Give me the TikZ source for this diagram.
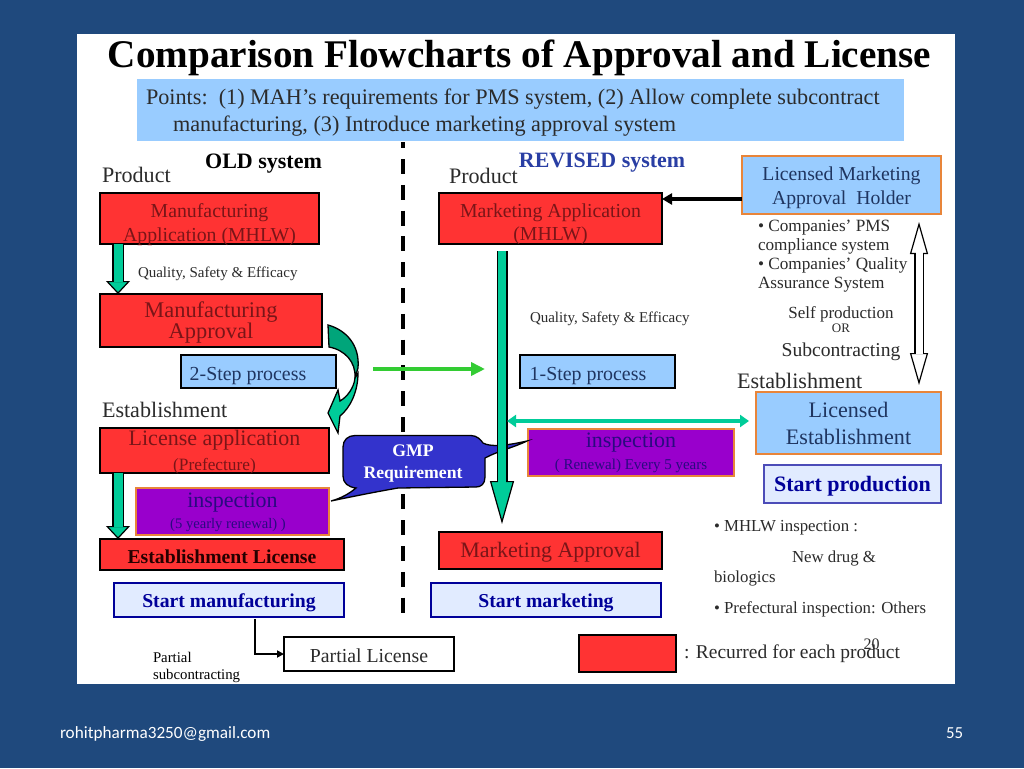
\documentclass[tikz,border=0pt]{standalone}
\usepackage{fontspec}
\setmainfont{Liberation Serif}
\newfontfamily\footfont{Carlito}
\usepackage{tikz}
\usetikzlibrary{positioning,arrows.meta,calc}
\definecolor{slide}{HTML}{1F497D}
\definecolor{boxred}{HTML}{FF3333}
\definecolor{boxblue}{HTML}{99CCFF}
\definecolor{boxpurple}{HTML}{9900CC}
\definecolor{boxpale}{HTML}{E1EBFF}
\definecolor{navy}{HTML}{000099}
\definecolor{tealarrow}{HTML}{00CC99}
\definecolor{tealdark}{HTML}{00A57A}
\definecolor{limearrow}{HTML}{33CC33}
\definecolor{calloutblue}{HTML}{3333CC}
\definecolor{edgeorange}{HTML}{E8853A}
\definecolor{inkred}{HTML}{7A1518}
\definecolor{inkblue}{HTML}{1F3560}
\definecolor{inkpurple}{HTML}{2A0A80}
\definecolor{inkgray}{HTML}{2B2B2B}

% size and line pitch
\newcommand{\fs}[2]{\fontsize{#1}{#2}\selectfont}
% room above the first and below the last baseline inside a box
\newcommand{\ltop}[1]{\rule{0pt}{#1pt}}
\newcommand{\lbot}[2]{\smash{#2}\rule[-#1pt]{0pt}{#1pt}}

\begin{document}
\begin{tikzpicture}[
  x=1pt,y=-1pt,
  every node/.style={inner sep=0pt, outer sep=0pt, align=center, text=inkgray},
  redbox/.style={draw=black, line width=2pt, fill=boxred, text=inkred},
  bluebox/.style={draw=black, line width=2pt, fill=boxblue, text=inkblue},
  orgbox/.style={draw=edgeorange, line width=2pt, fill=boxblue, text=inkblue},
  inspbox/.style={draw=edgeorange, line width=1.5pt, fill=boxpurple, text=inkpurple},
  startbox/.style={draw=navy, line width=2pt, fill=boxpale, text=navy, font=\bfseries\fs{19.7}{24}},
  plain/.style={anchor=base west, align=left},
  mid/.style={anchor=base},
  blockarrow/.style n args={4}{draw=black, line width=#1,
    -{Triangle[width=24pt,length=#3,line width=1.2pt,fill=tealarrow]},
    postaction={draw=tealarrow, line width=#2, arrows=-, shorten >=#4}},
]
% background and panel
\fill[slide] (0,0) rectangle (1024,768);
\fill[white] (77,34) rectangle (955,684);
\useasboundingbox (0,0) rectangle (1024,768);

\node[mid, text=black, font=\bfseries\fs{39.2}{40}] (title) at (519.5,67) {Comparison Flowcharts of Approval and License};
\fill[boxblue] (137,79) rectangle (904,141);
\node[plain, font=\fs{22.2}{24}] (pts1) at (146,104.5) {Points:\ \ (1) MAH’s requirements for PMS system, (2) Allow complete subcontract};
\node[plain, font=\fs{22.2}{24}] (pts2) at (173,131.5) {manufacturing, (3) Introduce marketing approval system};

% divider
\coordinate (divtop) at (403,142);
\coordinate (divbot) at (403,613);
\draw[black, line width=4.8pt, dash pattern=on 15pt off 10.8pt, dash phase=8.8pt] (divtop) -- (divbot);

% old system
\node[mid, font=\bfseries\fs{22}{24}, text=black] (oldsys) at (263.5,168) {OLD system};
\node[plain, font=\fs{22.1}{24}] (prod1) at (102,182) {Product};
\node[redbox, minimum width=219pt, minimum height=51pt, font=\fs{19.8}{24}] (mfgapp) at (209.5,218.5)
  {\ltop{24}Manufacturing\\\lbot{3}{Application (MHLW)}};
\node[plain, font=\fs{15}{16}] (qse1) at (138,277) {Quality, Safety \& Efficacy};
\node[redbox, minimum width=222pt, minimum height=53pt, font=\fs{22.4}{21}] (mfgok) at (211,320.5)
  {\ltop{23}Manufacturing\\\lbot{9}{Approval}};
\node[bluebox, minimum width=155pt, minimum height=33pt, font=\fs{19.9}{24}] (step2) at (258.5,371.5)
  {\ltop{25}\lbot{8}{2-Step process}\kern21pt};
\node[plain, font=\fs{22.1}{24}] (est1) at (102,417) {Establishment};
\node[redbox, minimum width=229pt, minimum height=45pt, font=\fs{22}{25}] (licapp) at (214.5,450.5)
  {\ltop{17}License application\\\lbot{3}{\fs{17.3}{25}(Prefecture)}};
\node[inspbox, minimum width=193pt, minimum height=47pt, font=\fs{22}{21}] (insp1) at (232.5,511.5)
  {\ltop{19}inspection\\\lbot{7}{\fs{14.6}{21}(5 yearly renewal) )\kern9pt}};
\node[redbox, minimum width=244pt, minimum height=31pt, font=\bfseries\fs{19.7}{24}, text=black!85!red] (estlic) at (222,554.5)
  {\ltop{24}\lbot{7}{Establishment License}};
\node[startbox, minimum width=230pt, minimum height=34pt] (startmfg) at (229,600) {\ltop{24}\lbot{10}{Start manufacturing}};
\node[draw=black, line width=1.8pt, minimum width=170pt, minimum height=34pt, fill=white, font=\fs{19.8}{24}] (partial) at (369,654)
  {\ltop{25}\lbot{9}{Partial License}};
\node[plain, font=\fs{14.8}{16}, text=black] (subc1) at (153,662) {Partial};
\node[plain, font=\fs{14.8}{16}, text=black] (subc2) at (153,679) {subcontracting};

% revised system
\node[mid, font=\bfseries\fs{21.9}{24}, text=calloutblue!50!slide] (newsys) at (602,167) {REVISED system};
\node[plain, font=\fs{22.1}{24}] (prod2) at (449,183) {Product};
\node[redbox, minimum width=223pt, minimum height=51pt, font=\fs{19.8}{23}] (mktapp) at (550.5,218.5)
  {\ltop{24}Marketing Application\\\lbot{4}{(MHLW)}};
\node[plain, font=\fs{15}{16}] (qse2) at (530,322) {Quality, Safety \& Efficacy};
\node[bluebox, minimum width=155pt, minimum height=33pt, font=\fs{19.9}{24}] (step1) at (597.5,371.5)
  {\ltop{25}\lbot{8}{1-Step process}\kern19pt};
\node[inspbox, minimum width=206pt, minimum height=47pt, font=\fs{22}{22}] (insp2) at (631,452.5)
  {\ltop{18}inspection\\\lbot{7}{\fs{15}{22}( Renewal) Every 5 years}};
\node[redbox, minimum width=223pt, minimum height=37pt, font=\fs{22}{24}] (mktok) at (550.5,550.5)
  {\ltop{25}\lbot{12}{Marketing Approval}};
\node[startbox, minimum width=230pt, minimum height=34pt] (startmkt) at (546,600) {\ltop{24}\lbot{10}{Start marketing}};

% right column
\node[orgbox, minimum width=199pt, minimum height=58pt, font=\fs{19.7}{24}] (holder) at (841.5,185)
  {\ltop{24}Licensed Marketing\\\lbot{10}{Approval\ \ Holder}};
\node[plain, font=\fs{17.2}{19}] (pms1) at (758,231) {• Companies’ PMS};
\node[plain, font=\fs{17.2}{19}] (pms2) at (758,250) {compliance system};
\node[plain, font=\fs{17.2}{19}] (pms3) at (758,269) {• Companies’ Quality};
\node[plain, font=\fs{17.2}{19}] (pms4) at (758,288) {Assurance System};
\node[mid, font=\fs{17}{19}] (selfp) at (841,318) {Self production};
\node[mid, font=\fs{13}{14}] (orword) at (841,332) {OR};
\node[mid, font=\fs{19.6}{20}] (subcon) at (841,356) {Subcontracting};
\node[plain, font=\fs{22.1}{24}] (est2) at (737,388) {Establishment};
\node[orgbox, minimum width=185pt, minimum height=62pt, font=\fs{22.1}{27}] (licest) at (848.5,423)
  {\ltop{25}Licensed\\\lbot{10}{Establishment}};
\node[startbox, draw=navy!70!white, minimum width=177pt, minimum height=38pt, font=\bfseries\fs{22}{24}] (startprod) at (852.5,484)
  {\ltop{26}\lbot{12}{Start production}};
\node[plain, font=\fs{16.8}{18}] (mhlw) at (714,531) {• MHLW inspection :};
\node[plain, font=\fs{16.8}{18}] (newdrug) at (792,562) {New drug \&};
\node[plain, font=\fs{16.8}{18}] (biol) at (714,582) {biologics};
\node[plain, font=\fs{16.8}{18}] (pref) at (714,613) {• Prefectural inspection: Others};

% legend
\node[redbox, minimum width=97pt, minimum height=37pt] (legend) at (627.5,653.5) {};
\node[plain, font=\fs{19.5}{20}] (recur) at (684,658) {: Recurred for each product};
\node[mid, font=\fs{16}{18}] (pageno) at (871.5,649) {20};

% GMP callout
\draw[black, fill=calloutblue, line width=1.3pt] (355,435.5) -- (471,435.5)
  .. controls (477,435.5) and (481,440) .. (483,443)
  .. controls (490,447) and (505,446) .. (527,441)
  .. controls (515,447) and (498,451) .. (485,458)
  -- (485,477) .. controls (485,484) and (481,487) .. (476,487)
  -- (398,488) .. controls (375,492) and (350,497) .. (331,501)
  .. controls (342,498) and (350,493) .. (356,488)
  .. controls (348,487) and (343,483) .. (343,476) -- (343,447)
  .. controls (343,440) and (348,435.5) .. (355,435.5) -- cycle;
\node[text=white, font=\bfseries\fs{17.7}{22}] (gmp) at (413,464) {GMP\\Requirement};

% connectors
\draw[blockarrow={11.5pt}{9pt}{13pt}{12pt}] ([xshift=18pt]mfgapp.south west) -- ([xshift=18pt]mfgok.north west);
\draw[blockarrow={11.5pt}{9pt}{13pt}{12pt}] ([xshift=18pt]licapp.south west) -- ([xshift=18pt]estlic.north west);
\draw[blockarrow={11pt}{8.6pt}{43pt}{49pt}, shorten <=7pt, shorten >=8pt]
  (mktapp.south -| 502,0) -- (mktok.north -| 502,0);
\coordinate (arwL) at (507,421);
\draw[draw=tealarrow, line width=4.5pt, {Triangle[width=12pt,length=9pt]}-{Triangle[width=12pt,length=9pt]}, shorten >=7pt] (arwL) -- (licest.west |- arwL);
\coordinate (arwA) at (373,369);
\coordinate (arwB) at (485,369);
\draw[draw=limearrow, line width=4.5pt, -{Triangle[width=13pt,length=14pt]}] (arwA) -- (arwB);
\draw[black, line width=4.5pt, -{Triangle[width=11pt,length=10pt]}] ([yshift=-14pt]holder.west) -- ([yshift=-14pt]holder.west -| mktapp.east);
\draw[draw=black, line width=9.5pt, {Triangle[width=18pt,length=32pt,line width=1.2pt,fill=white]}-{Triangle[width=18pt,length=32pt,line width=1.2pt,fill=white]},
  postaction={draw=white, line width=7pt, arrows=-, shorten >=38pt, shorten <=38pt}, shorten >=7pt, shorten <=8pt]
  (holder.south -| 919,0) -- (licest.north -| 919,0);
\draw[black, line width=1.7pt, -{Triangle[width=7pt,length=7pt]}] ([xshift=26pt]startmfg.south |- 0,619) |- (partial.west);

% curved arrow
\fill[tealdark, draw=black, line width=1.3pt] ([xshift=6pt,yshift=-31pt]mfgok.north east)
  .. controls (346,330) and (360,345) .. (358,368) -- (355,378)
  .. controls (356,362) and (345,350) .. (329,347) -- cycle;
\fill[tealarrow, draw=black, line width=1.3pt] (358,373)
  .. controls (358,392) and (350,408) .. (340,416) -- (338,433) -- (328,413) -- (338,390) -- (340,401)
  .. controls (347,397) and (354,388) .. (355,378) -- cycle;

% footer
\node[plain, text=white, font=\footfont\fs{17.2}{18}] (mail) at (60,738) {rohitpharma3250@gmail.com};
\node[plain, text=white, font=\footfont\fs{16.8}{18}] (slideno) at (946,738) {55};
\end{tikzpicture}
\end{document}
